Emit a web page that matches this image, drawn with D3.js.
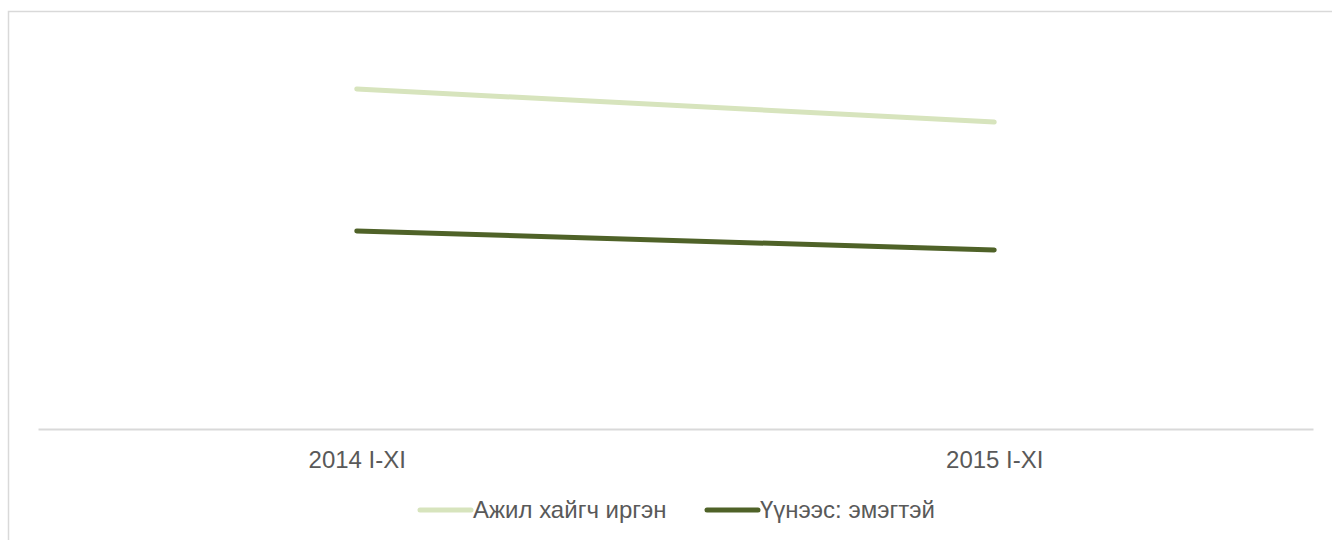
<!DOCTYPE html>
<html>
<head>
<meta charset="utf-8">
<script src="https://cdn.jsdelivr.net/npm/d3@7"></script>
<style>
html,body{margin:0;padding:0;background:#fff;}
svg{display:block;}
text{font-family:"Liberation Sans",Arial,sans-serif;}
</style>
</head>
<body>
<svg id="chart" width="1332" height="540"></svg>
<script>
const categories = ["2014 I-XI", "2015 I-XI"];
const seriesNames = ["Ажил хайгч иргэн", "Үүнээс: эмэгтэй"];
const jobSeekers = [34000, 30700];
const women = [19800, 17900];
const seriesColors = ["#d7e4bd", "#4f6228"];

(function () {
const svg = d3.select("#chart");

// outer frame (extends beyond the visible area)
svg.append("rect")
  .attr("x", 8.5).attr("y", 11.5)
  .attr("width", 1400).attr("height", 600)
  .attr("fill", "none").attr("stroke", "#d9d9d9").attr("stroke-width", 1.5);

const mLeft = 38, mRight = 1313, mTop = 29, mBottom = 429;

const x = d3.scalePoint().domain(categories).range([mLeft, mRight]).padding(0.5);
const y = d3.scaleLinear().domain([0, 40000]).range([mBottom, mTop]);

// category axis
const xAxis = d3.axisBottom(x).tickSize(0).tickPadding(22);
const gx = svg.append("g").attr("transform", `translate(0,${mBottom})`).call(xAxis);
gx.select(".domain").attr("stroke", "#d9d9d9").attr("stroke-width", 2);
gx.selectAll("text").attr("font-size", 24).attr("fill", "#595959")
  .attr("font-family", "'Liberation Sans', Arial, sans-serif");

const data = [jobSeekers, women];
const line = d3.line().x((d, i) => x(categories[i])).y(d => y(d));

data.forEach((vals, k) => {
  svg.append("path")
    .datum(vals)
    .attr("d", line)
    .attr("fill", "none")
    .attr("stroke", seriesColors[k])
    .attr("stroke-width", 5)
    .attr("stroke-linecap", "round");
});

// legend
const legendItems = [
  {name: seriesNames[0], color: seriesColors[0], x0: 420},
  {name: seriesNames[1], color: seriesColors[1], x0: 707}
];
const ly = 510;
const lg = svg.append("g");
legendItems.forEach(it => {
  lg.append("line")
    .attr("x1", it.x0).attr("x2", it.x0 + 51)
    .attr("y1", ly).attr("y2", ly)
    .attr("stroke", it.color).attr("stroke-width", 5)
    .attr("stroke-linecap", "round");
  lg.append("text")
    .attr("x", it.x0 + 53).attr("y", ly)
    .attr("dy", "0.35em")
    .attr("font-size", 24)
    .attr("fill", "#595959")
    .text(it.name);
});
})();
</script>
</body>
</html>
